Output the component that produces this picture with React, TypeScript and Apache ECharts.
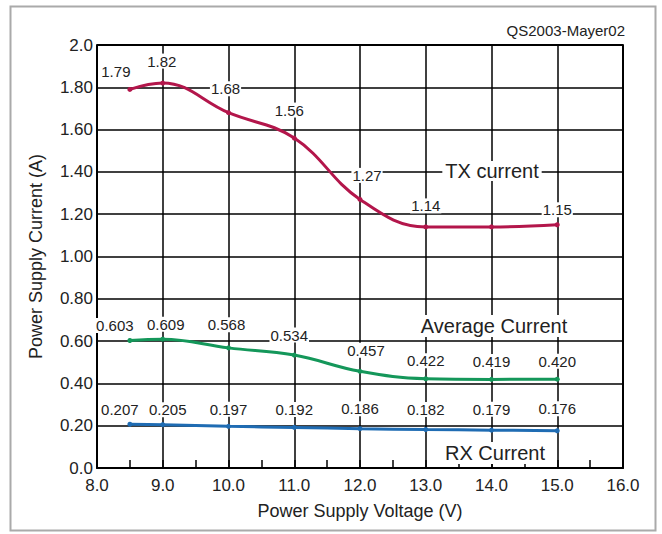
import React, { useEffect, useRef } from "react";
import * as echarts from "echarts";

const voltages = [8.5, 9.0, 10.0, 11.0, 12.0, 13.0, 14.0, 15.0];
const txCurrent = [1.79, 1.82, 1.68, 1.56, 1.27, 1.14, 1.14, 1.15];
const txLabels = ["1.79", "1.82", "1.68", "1.56", "1.27", "1.14", "", "1.15"];
const avgCurrent = [0.603, 0.609, 0.568, 0.534, 0.457, 0.422, 0.419, 0.42];
const avgLabels = ["0.603", "0.609", "0.568", "0.534", "0.457", "0.422", "0.419", "0.420"];
const rxCurrent = [0.207, 0.205, 0.197, 0.192, 0.186, 0.182, 0.179, 0.176];
const rxLabels = ["0.207", "0.205", "0.197", "0.192", "0.186", "0.182", "0.179", "0.176"];

// label offsets (layout only)
const txOffsets = [[-14, -3], [-1, -7], [-3, -9], [-5, -13], [7, -9], [0, -6], [0, 0], [0, 0]];
const avgOffsets = [[-15, 0], [3, 0], [-2, -8], [-5, -5], [6, -6], [0, -3], [0, -3], [0, -3]];
const rxOffsets = [[-10, 0], [5, 0], [0, -2], [0, -3], [0, -5], [0, -5], [0, -6], [0, -7]];

const FONT = "Liberation Sans, Arial, sans-serif";

function buildData(values: number[], labels: string[], offsets: number[][]) {
  return voltages.map((v, i) => ({
    value: [v, values[i]],
    label: {
      show: labels[i] !== "",
      formatter: labels[i],
      offset: offsets[i],
    },
  }));
}

function makeSeries(name: string, values: number[], labels: string[], offsets: number[][], color: string) {
  return {
    name,
    type: "line",
    smooth: 0.4,
    symbol: "circle",
    symbolSize: 5,
    showSymbol: true,
    data: buildData(values, labels, offsets),
    lineStyle: { color, width: 3 },
    itemStyle: { color },
    label: {
      position: "top",
      distance: 5,
      color: "#222",
      fontFamily: FONT,
      fontSize: 15,
      backgroundColor: "#fff",
      padding: [0, 1],
    },
    z: 3,
  };
}

export default function App() {
  const ref = useRef<HTMLDivElement>(null);
  useEffect(() => {
    if (!ref.current) return;
    const chart = echarts.init(ref.current, null, { renderer: "svg" });
    const option = {
      animation: false,
      backgroundColor: "#fff",
      grid: { left: 97, right: 39, top: 45, bottom: 66, show: false },
      xAxis: [
        {
          type: "value",
          min: 8,
          max: 16,
          interval: 1,
          name: "Power Supply Voltage (V)",
          nameLocation: "middle",
          nameGap: 34,
          nameTextStyle: { color: "#222", fontFamily: FONT, fontSize: 18 },
          axisLine: { show: true, onZero: false, lineStyle: { color: "#000", width: 2 } },
          axisTick: { show: false },
          axisLabel: {
            color: "#222",
            fontFamily: FONT,
            fontSize: 17,
            margin: 9,
            formatter: (v: number) => v.toFixed(1),
          },
          splitLine: { show: true, lineStyle: { color: "#000", width: 1.5 } },
        },
        {
          type: "value",
          position: "bottom",
          min: 8,
          max: 16,
          interval: 0.5,
          axisLine: { show: false },
          axisTick: { show: true, inside: true, length: 8, lineStyle: { color: "#000", width: 1.5 } },
          axisLabel: { show: false },
          splitLine: { show: false },
        },
      ],
      yAxis: [
        {
          type: "value",
          min: 0,
          max: 2,
          interval: 0.2,
          name: "Power Supply Current (A)",
          nameLocation: "middle",
          nameGap: 52,
          nameTextStyle: { color: "#222", fontFamily: FONT, fontSize: 18 },
          axisLine: { show: true, lineStyle: { color: "#000", width: 2 } },
          axisTick: { show: false },
          axisLabel: {
            color: "#222",
            fontFamily: FONT,
            fontSize: 17,
            margin: 4,
            formatter: (v: number) => (Math.abs(v) < 1e-9 || Math.abs(v - 2) < 1e-9 ? v.toFixed(1) : v.toFixed(2)),
          },
          splitLine: { show: true, lineStyle: { color: "#000", width: 1.5 } },
        },
        {
          type: "value",
          position: "right",
          min: 0,
          max: 2,
          interval: 0.2,
          axisLine: { show: true, lineStyle: { color: "#000", width: 2 } },
          axisTick: { show: false },
          axisLabel: { show: false },
          splitLine: { show: false },
        },
      ],
      series: [
        makeSeries("TX current", txCurrent, txLabels, txOffsets, "#b3164b"),
        makeSeries("Average Current", avgCurrent, avgLabels, avgOffsets, "#14975a"),
        makeSeries("RX Current", rxCurrent, rxLabels, rxOffsets, "#1f6cb3"),
      ],
      graphic: [
        {
          type: "rect",
          shape: { x: 10.5, y: 6.5, width: 645, height: 524 },
          style: { fill: "none", stroke: "#aaa", lineWidth: 2 },
          silent: true,
        },
        {
          type: "line",
          shape: { x1: 97, y1: 45, x2: 623, y2: 45 },
          style: { stroke: "#000", lineWidth: 2 },
          z: 10,
        },
        {
          type: "text",
          x: 625,
          y: 30,
          style: {
            text: "QS2003-Mayer02",
            fontFamily: FONT,
            fontSize: 15,
            fill: "#222",
            align: "right",
            verticalAlign: "middle",
          },
        },
        {
          type: "text",
          x: 492,
          y: 171,
          z: 5,
          style: {
            text: "TX current",
            fontFamily: FONT,
            fontSize: 20,
            fill: "#222",
            align: "center",
            verticalAlign: "middle",
            backgroundColor: "#fff",
            padding: [0, 3],
          },
        },
        {
          type: "text",
          x: 494,
          y: 326,
          z: 5,
          style: {
            text: "Average Current",
            fontFamily: FONT,
            fontSize: 20,
            fill: "#222",
            align: "center",
            verticalAlign: "middle",
            backgroundColor: "#fff",
            padding: [1, 3],
          },
        },
        {
          type: "text",
          x: 495,
          y: 453,
          z: 5,
          style: {
            text: "RX Current",
            fontFamily: FONT,
            fontSize: 20,
            fill: "#222",
            align: "center",
            verticalAlign: "middle",
            backgroundColor: "#fff",
            padding: [1, 3],
          },
        },
      ],
    };
    chart.setOption(option as any);
    return () => chart.dispose();
  }, []);
  return (
    <div
      ref={ref}
      style={{ position: "fixed", left: 0, top: 0, width: 662, height: 534 }}
    />
  );
}
